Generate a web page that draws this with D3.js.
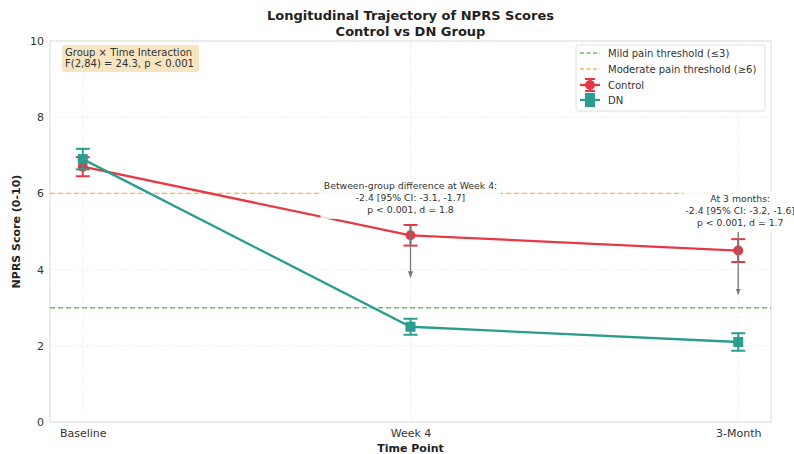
<!DOCTYPE html>
<html><head><meta charset="utf-8">
<script src="https://cdn.jsdelivr.net/npm/d3@7/dist/d3.min.js"></script>
<style>body{margin:0;background:#fff;} text{font-family:"DejaVu Sans",sans-serif;}</style>
</head><body><svg id="c" width="794" height="454"></svg>
<script>
const timePoints = ["Baseline", "Week 4", "3-Month"];
const controlMean = [6.7, 4.9, 4.5];
const controlCI = [0.25, 0.27, 0.3];
const dnMean = [6.9, 2.5, 2.1];
const dnCI = [0.27, 0.21, 0.23];
const yTicks = [0, 2, 4, 6, 8, 10];
const mildThreshold = 3;
const moderateThreshold = 6;
const arrows = [{x: 1, from: 5.15, to: 3.8}, {x: 2, from: 5.05, to: 3.35}];
const week4Note = ["Between-group difference at Week 4:", "-2.4 [95% CI: -3.1, -1.7]", "p < 0.001, d = 1.8"];
const month3Note = ["At 3 months:", "-2.4 [95% CI: -3.2, -1.6]", "p < 0.001, d = 1.7"];
const interactionNote = ["Group \u00d7 Time Interaction", "F(2,84) = 24.3, p < 0.001"];

const svg = d3.select("#c");
const L = 50, R = 771, T = 41, B = 422;
const x = d3.scaleLinear().domain([-0.1, 2.1]).range([L, R]);
const y = d3.scaleLinear().domain([0, 10]).range([B, T]);
const RED = "#e63946", TEAL = "#2a9d8f", GREEN = "#4caf50", ORANGE = "#f5a93a";

// grid
const g = svg.append("g");
g.selectAll(".hg").data(yTicks).enter().append("line")
  .attr("x1", L).attr("x2", R).attr("y1", d => y(d)).attr("y2", d => y(d))
  .attr("stroke", "#ebebeb").attr("stroke-width", 0.8).attr("stroke-dasharray", "3,2");
g.selectAll(".vg").data(timePoints).enter().append("line")
  .attr("x1", (d, i) => x(i)).attr("x2", (d, i) => x(i)).attr("y1", T).attr("y2", B)
  .attr("stroke", "#ebebeb").attr("stroke-width", 0.8).attr("stroke-dasharray", "3,2");

// axes
const yAxis = d3.axisLeft(y).tickValues(yTicks).tickSize(0).tickPadding(6);
const ya = svg.append("g").attr("transform", `translate(${L},0)`).call(yAxis);
const xAxis = d3.axisBottom(x).tickValues([0, 1, 2]).tickFormat(i => timePoints[i]).tickSize(0).tickPadding(7);
const xa = svg.append("g").attr("transform", `translate(0,${B})`).call(xAxis);
[ya, xa].forEach(a => {
  a.select(".domain").remove();
  a.selectAll("text").attr("font-size", 11).attr("fill", "#333").attr("font-family", "DejaVu Sans");
});
svg.append("rect").attr("x", L).attr("y", T).attr("width", R - L).attr("height", B - T)
  .attr("fill", "none").attr("stroke", "#dcdcdc").attr("stroke-width", 1);

// thresholds
svg.append("line").attr("x1", L).attr("x2", R).attr("y1", y(mildThreshold)).attr("y2", y(mildThreshold))
  .attr("stroke", GREEN).attr("stroke-opacity", 0.85).attr("stroke-width", 1.4).attr("stroke-dasharray", "5,3");
svg.append("line").attr("x1", L).attr("x2", R).attr("y1", y(moderateThreshold)).attr("y2", y(moderateThreshold))
  .attr("stroke", ORANGE).attr("stroke-opacity", 0.85).attr("stroke-width", 1.4).attr("stroke-dasharray", "5,3");

// series
function drawSeries(means, ci, color, shape) {
  const line = d3.line().x((d, i) => x(i)).y(d => y(d));
  svg.append("path").datum(means).attr("d", line).attr("fill", "none")
    .attr("stroke", color).attr("stroke-width", 2.3);
  const eg = svg.append("g");
  means.forEach((m, i) => {
    const cx = x(i);
    eg.append("line").attr("x1", cx).attr("x2", cx).attr("y1", y(m - ci[i])).attr("y2", y(m + ci[i]))
      .attr("stroke", color).attr("stroke-width", 2);
    [m - ci[i], m + ci[i]].forEach(v => eg.append("line").attr("x1", cx - 7).attr("x2", cx + 7)
      .attr("y1", y(v)).attr("y2", y(v)).attr("stroke", color).attr("stroke-width", 2));
    if (shape === "circle") eg.append("circle").attr("cx", cx).attr("cy", y(m)).attr("r", 5).attr("fill", color);
    else eg.append("rect").attr("x", cx - 5).attr("y", y(m) - 5).attr("width", 10).attr("height", 10).attr("fill", color);
  });
}
drawSeries(controlMean, controlCI, RED, "circle");
drawSeries(dnMean, dnCI, TEAL, "square");

// arrows
svg.append("defs").append("marker").attr("id", "ah").attr("viewBox", "0 0 10 10").attr("refX", 9).attr("refY", 5)
  .attr("markerWidth", 5).attr("markerHeight", 5).attr("orient", "auto")
  .append("path").attr("d", "M0,1 L10,5 L0,9 z").attr("fill", "#777");
arrows.forEach(a => {
  svg.append("line").attr("x1", x(a.x)).attr("x2", x(a.x)).attr("y1", y(a.from)).attr("y2", y(a.to))
    .attr("stroke", "#777").attr("stroke-width", 1.3).attr("marker-end", "url(#ah)");
});

// notes with white box
function note(lines, cx, y0, w) {
  const h = lines.length * 12 + 4;
  svg.append("rect").attr("x", cx - w / 2).attr("y", y0 - 10).attr("width", w).attr("height", h)
    .attr("fill", "#fff").attr("opacity", 0.85);
  lines.forEach((t, i) => svg.append("text").attr("x", cx).attr("y", y0 + i * 12)
    .attr("text-anchor", "middle").attr("font-size", 9.3).attr("fill", "#333").text(t));
}
note(week4Note, x(1), 189, 180);
note(month3Note, x(2) + 2, 202, 114);

// interaction box
svg.append("rect").attr("x", 62).attr("y", 45).attr("width", 137).attr("height", 27).attr("rx", 3)
  .attr("fill", "#f5deb3").attr("opacity", 0.8);
interactionNote.forEach((t, i) => svg.append("text").attr("x", 65).attr("y", 56 + i * 11)
  .attr("font-size", 10).attr("fill", "#333").text(t));

// legend
const lg = svg.append("g");
lg.append("rect").attr("x", 576).attr("y", 45).attr("width", 189).attr("height", 66).attr("rx", 2)
  .attr("fill", "#fff").attr("opacity", 0.9).attr("stroke", "#ddd");
const legendItems = [
  {label: "Mild pain threshold (\u22643)", color: GREEN, type: "dash"},
  {label: "Moderate pain threshold (\u22656)", color: ORANGE, type: "dash"},
  {label: "Control", color: RED, type: "circle"},
  {label: "DN", color: TEAL, type: "square"}
];
const ly = [53, 69, 85, 100];
legendItems.forEach((it, i) => {
  const yy = ly[i], x0 = 580, x1 = 600;
  if (it.type === "dash") {
    lg.append("line").attr("x1", x0).attr("x2", x1).attr("y1", yy).attr("y2", yy)
      .attr("stroke", it.color).attr("stroke-opacity", 0.85).attr("stroke-width", 1.4).attr("stroke-dasharray", "4,2.5");
  } else {
    const cx = (x0 + x1) / 2;
    lg.append("line").attr("x1", x0).attr("x2", x1).attr("y1", yy).attr("y2", yy).attr("stroke", it.color).attr("stroke-width", 2.3);
    lg.append("line").attr("x1", cx).attr("x2", cx).attr("y1", yy - 6).attr("y2", yy + 6).attr("stroke", it.color).attr("stroke-width", 2);
    [yy - 6, yy + 6].forEach(v => lg.append("line").attr("x1", cx - 5).attr("x2", cx + 5).attr("y1", v).attr("y2", v).attr("stroke", it.color).attr("stroke-width", 2));
    if (it.type === "circle") lg.append("circle").attr("cx", cx).attr("cy", yy).attr("r", 5).attr("fill", it.color);
    else lg.append("rect").attr("x", cx - 5).attr("y", yy - 5).attr("width", 10).attr("height", 10).attr("fill", it.color);
  }
  lg.append("text").attr("x", 608).attr("y", yy + 3.5).attr("font-size", 10).attr("fill", "#333").text(it.label);
});

// titles
svg.append("text").attr("x", (L + R) / 2).attr("y", 20).attr("text-anchor", "middle")
  .attr("font-size", 13).attr("font-weight", "bold").attr("fill", "#222").text("Longitudinal Trajectory of NPRS Scores");
svg.append("text").attr("x", (L + R) / 2).attr("y", 36).attr("text-anchor", "middle")
  .attr("font-size", 13).attr("font-weight", "bold").attr("fill", "#222").text("Control vs DN Group");
svg.append("text").attr("x", (L + R) / 2).attr("y", 452).attr("text-anchor", "middle")
  .attr("font-size", 11).attr("font-weight", "bold").attr("fill", "#222").text("Time Point");
svg.append("text").attr("transform", `translate(20,${(T + B) / 2}) rotate(-90)`).attr("text-anchor", "middle")
  .attr("font-size", 11).attr("font-weight", "bold").attr("fill", "#222").text("NPRS Score (0-10)");
</script></body></html>
